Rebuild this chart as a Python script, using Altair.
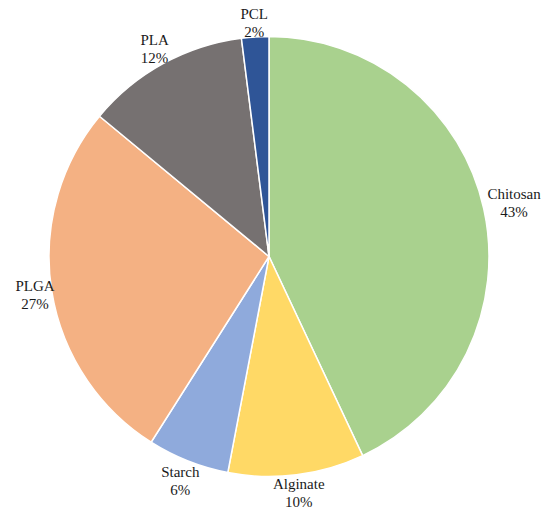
import altair as alt
import pandas as pd

categories = ["Chitosan", "Alginate", "Starch", "PLGA", "PLA", "PCL"]
values = [43, 10, 6, 27, 12, 2]
colors = ["#a9d18e", "#ffd966", "#8faadc", "#f4b183", "#767171", "#2f5597"]

df = pd.DataFrame({
    "material": categories,
    "share": values,
    "order": list(range(len(categories))),
})
df["label"] = [[c, f"{v}%"] for c, v in zip(categories, values)]

cx, cy = 261, 248.5

pie = alt.Chart(df).mark_arc(outerRadius=220, stroke="white", strokeWidth=1.5).encode(
    theta=alt.Theta("share:Q", stack=True),
    order=alt.Order("order:Q", sort="ascending"),
    x=alt.value(cx),
    y=alt.value(cy),
    color=alt.Color("material:N", scale=alt.Scale(domain=categories, range=colors), legend=None),
)

# place each label box just outside the rim (like "outside end" labels)
labels = alt.Chart(df).transform_joinaggregate(
    total="sum(share)"
).transform_window(
    cum="sum(share)", sort=[alt.SortField("order")], frame=[None, 0]
).transform_calculate(
    a="2*PI*(datum.cum - datum.share/2)/datum.total",
    hw="max(length(datum.material), 3)*3.5",
    lr="221 + abs(sin(datum.a))*datum.hw + abs(cos(datum.a))*13",
).mark_text(
    font="Liberation Serif", fontSize=15, lineHeight=18, dy=-8,
    color="#1a1a1a", align="center", baseline="middle",
).encode(
    theta=alt.Theta("a:Q", scale=None, stack=None),
    radius=alt.Radius("lr:Q", scale=None),
    x=alt.value(cx),
    y=alt.value(cy),
    text="label",
)

chart = (pie + labels).resolve_scale(theta="independent").properties(
    width=534, height=505, autosize=alt.AutoSizeParams(type="none"), padding=0
).configure_view(stroke=None)

chart.save("out.html", embed_options={"renderer": "svg", "actions": False})
